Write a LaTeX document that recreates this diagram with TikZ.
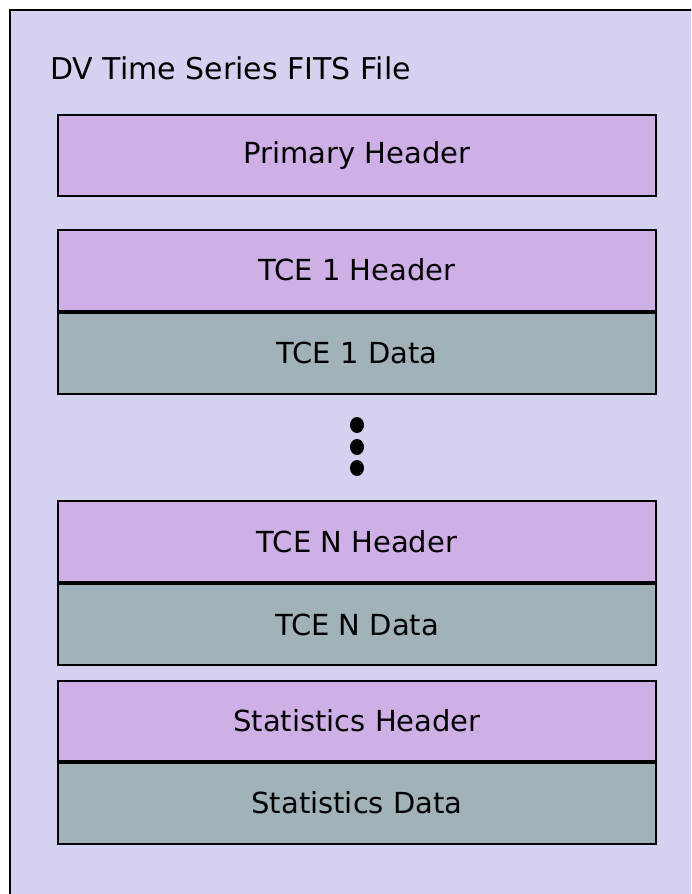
\documentclass[tikz,border=0pt]{standalone}
\usepackage{fontspec}
\setmainfont{DejaVu Sans}
\usetikzlibrary{positioning}

\definecolor{filebg}{RGB}{212,210,240}
\definecolor{hdrfill}{RGB}{206,176,230}
\definecolor{datafill}{RGB}{161,178,184}

\tikzset{
  fitsbox/.style={draw=black, line width=2pt, minimum width=598pt, minimum height=81pt,
    inner sep=0pt, font=\fontsize{29}{34}\selectfont},
  hdu/.style={fitsbox, fill=hdrfill},
  hdata/.style={fitsbox, fill=datafill}
}

\begin{document}
\begin{tikzpicture}[x=1pt,y=-1pt]
\useasboundingbox (0,0) rectangle (691,894);
\begin{scope}
\clip (0,0) rectangle (691,894);
\draw [fill=filebg, line width=2.5pt] (10,10) rectangle (740,940);
\end{scope}
\node (title) [anchor=base west, inner sep=0pt, font=\fontsize{30}{34}\selectfont] at (50,79) {DV Time Series FITS File};
% primary HDU
\node (prihdr) [hdu] at (357,155.5) {Primary Header};
% first TCE
\node (tce1hdr) [hdu] at (357,270) {TCE 1 Header};
\node (tce1data) [hdata, below=0pt of tce1hdr] {TCE 1 Data};
% more TCEs
\fill (357,425) ellipse (7 and 8);
\fill (357,447) ellipse (7 and 8);
\fill (357,468) ellipse (7 and 8);
% last TCE
\node (tcenhdr) [hdu] at (357,541.5) {TCE N Header};
\node (tcendata) [hdata, below=0pt of tcenhdr] {TCE N Data};
% statistics
\node (stathdr) [hdu, minimum height=80pt] at (357,720.5) {Statistics Header};
\node (statdata) [hdata, below=0pt of stathdr] {Statistics Data};
\end{tikzpicture}
\end{document}
